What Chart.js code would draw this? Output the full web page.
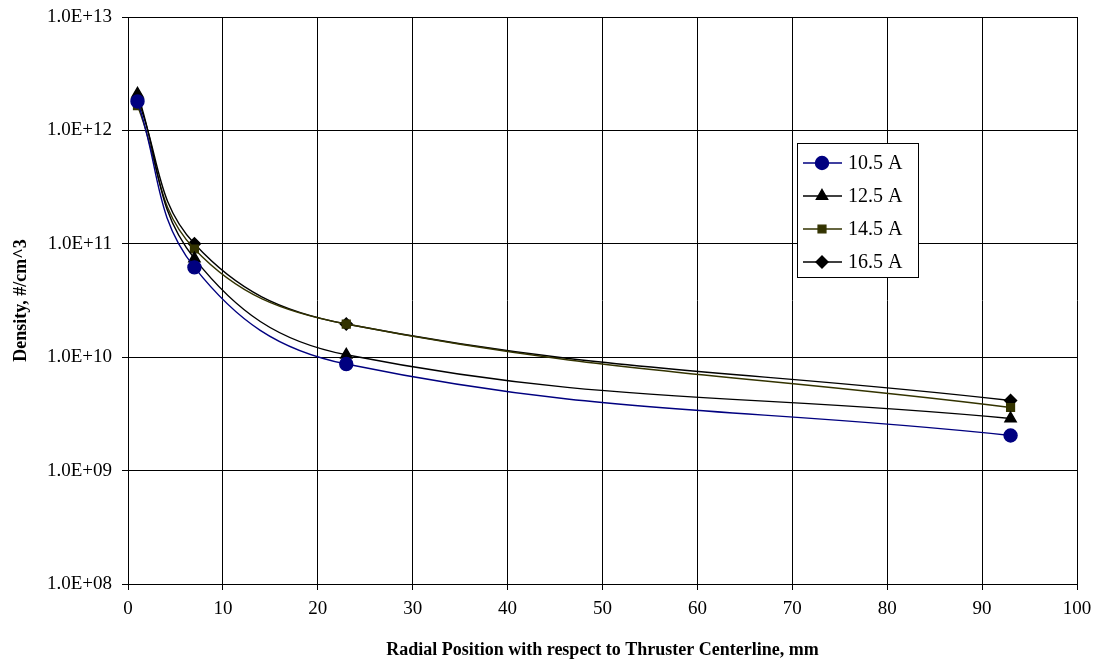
<!DOCTYPE html>
<html>
<head>
<meta charset="utf-8">
<script src="https://cdn.jsdelivr.net/npm/chart.js@4/dist/chart.umd.min.js"></script>
<style>
  html, body { margin: 0; padding: 0; background: #fff; }
  #wrap { width: 1097px; height: 665px; }
</style>
</head>
<body>
<div id="wrap"><canvas id="myChart" width="1097" height="665"></canvas></div>
<script>
// positions along the radius, mm
var positions = [1, 7, 23, 93]

// densities for each discharge current, #/cm^3
var dens105 = [1.8e12, 6.2e10, 8.7e9, 2.04e9]
var dens125 = [2.1e12, 7.4e10, 1.05e10, 2.88e9]
var dens145 = [1.65e12, 9.0e10, 1.96e10, 3.6e9]
var dens165 = [1.9e12, 1.0e11, 1.96e10, 4.15e9]

var seriesNames = ['10.5 A', '12.5 A', '14.5 A', '16.5 A']

var yTicks = [1e8, 1e9, 1e10, 1e11, 1e12, 1e13]
var yTickLabels = ['1.0E+08', '1.0E+09', '1.0E+10', '1.0E+11', '1.0E+12', '1.0E+13']

var serif = "'Liberation Serif', 'Times New Roman', serif"

function toXY(values) {
  return positions.map(function (p, i) { return {x: p, y: values[i]} })
}

function makeSet(label, values, color, style, radius) {
  return {
    label: label,
    data: toXY(values),
    borderColor: color,
    backgroundColor: color,
    pointBackgroundColor: color,
    pointBorderColor: color,
    pointStyle: style,
    pointRadius: radius,
    pointHoverRadius: radius,
    borderWidth: 1.4,
    tension: 0.4,
    fill: false
  }
}

// legend drawn inside the plot like the excel one
var boxLegend = {
  id: 'boxLegend',
  afterDraw: function (chart) {
    var ctx = chart.ctx
    var x = 797, y = 143, w = 121, h = 134
    ctx.save()
    ctx.fillStyle = '#fff'
    ctx.fillRect(x, y, w, h)
    ctx.strokeStyle = '#000'
    ctx.lineWidth = 1
    ctx.strokeRect(x + 0.5, y + 0.5, w, h)
    chart.data.datasets.forEach(function (ds, i) {
      var cy = y + 20 + i * 33
      ctx.strokeStyle = ds.borderColor
      ctx.lineWidth = 1.4
      ctx.beginPath()
      ctx.moveTo(x + 6, cy)
      ctx.lineTo(x + 45, cy)
      ctx.stroke()
      ctx.fillStyle = ds.pointBackgroundColor
      ctx.strokeStyle = ds.pointBorderColor
      Chart.helpers.drawPoint(ctx, {pointStyle: ds.pointStyle, radius: ds.pointRadius, rotation: 0, borderWidth: 1}, x + 25, cy)
      ctx.fillStyle = '#000'
      ctx.font = '20px ' + serif
      ctx.textBaseline = 'middle'
      ctx.textAlign = 'left'
      ctx.fillText(ds.label, x + 51, cy + 1)
    })
    ctx.restore()
  }
}

var ctx = document.getElementById('myChart').getContext('2d')
var chart = new Chart(ctx, {
  type: 'line',
  data: {
    datasets: [
      makeSet(seriesNames[0], dens105, '#000080', 'circle', 6.5),
      makeSet(seriesNames[1], dens125, '#000000', 'triangle', 6.5),
      makeSet(seriesNames[2], dens145, '#333300', 'rect', 5.5),
      makeSet(seriesNames[3], dens165, '#000000', 'rectRot', 6)
    ]
  },
  options: {
    responsive: false,
    animation: false,
    layout: { padding: { left: 0, top: 17, right: 20, bottom: 0 } },
    plugins: {
      legend: { display: false },
      tooltip: { enabled: false }
    },
    scales: {
      x: {
        type: 'linear',
        min: 0,
        max: 100,
        ticks: { stepSize: 10, color: '#000', padding: 8, font: { family: serif, size: 19 } },
        grid: { color: '#000', lineWidth: 1, tickLength: 6, tickColor: '#000' },
        border: { color: '#000' },
        title: {
          display: true,
          text: 'Radial Position with respect to Thruster Centerline, mm',
          color: '#000',
          font: { family: serif, size: 18, weight: 'bold' },
          padding: { top: 0, bottom: 4 }
        },
        afterFit: function (scale) {
          scale.height = 81
          scale.paddingLeft = 0
          scale.paddingRight = 0
        }
      },
      y: {
        type: 'logarithmic',
        min: 1e8,
        max: 1e13,
        afterBuildTicks: function (scale) {
          scale.ticks = yTicks.map(function (v) { return {value: v} })
        },
        ticks: {
          color: '#000',
          padding: 10,
          font: { family: serif, size: 19 },
          callback: function (value) {
            var i = yTicks.indexOf(value)
            return i >= 0 ? yTickLabels[i] : ''
          }
        },
        grid: { color: '#000', lineWidth: 1, tickLength: 6, tickColor: '#000' },
        border: { color: '#000' },
        title: {
          display: true,
          text: 'Density, #/cm^3',
          color: '#000',
          font: { family: serif, size: 18, weight: 'bold' },
          padding: { top: 11, bottom: 0 }
        },
        afterFit: function (scale) {
          scale.width = 128
          scale.paddingTop = 0
          scale.paddingBottom = 0
        }
      }
    }
  },
  plugins: [boxLegend]
})
</script>
</body>
</html>
